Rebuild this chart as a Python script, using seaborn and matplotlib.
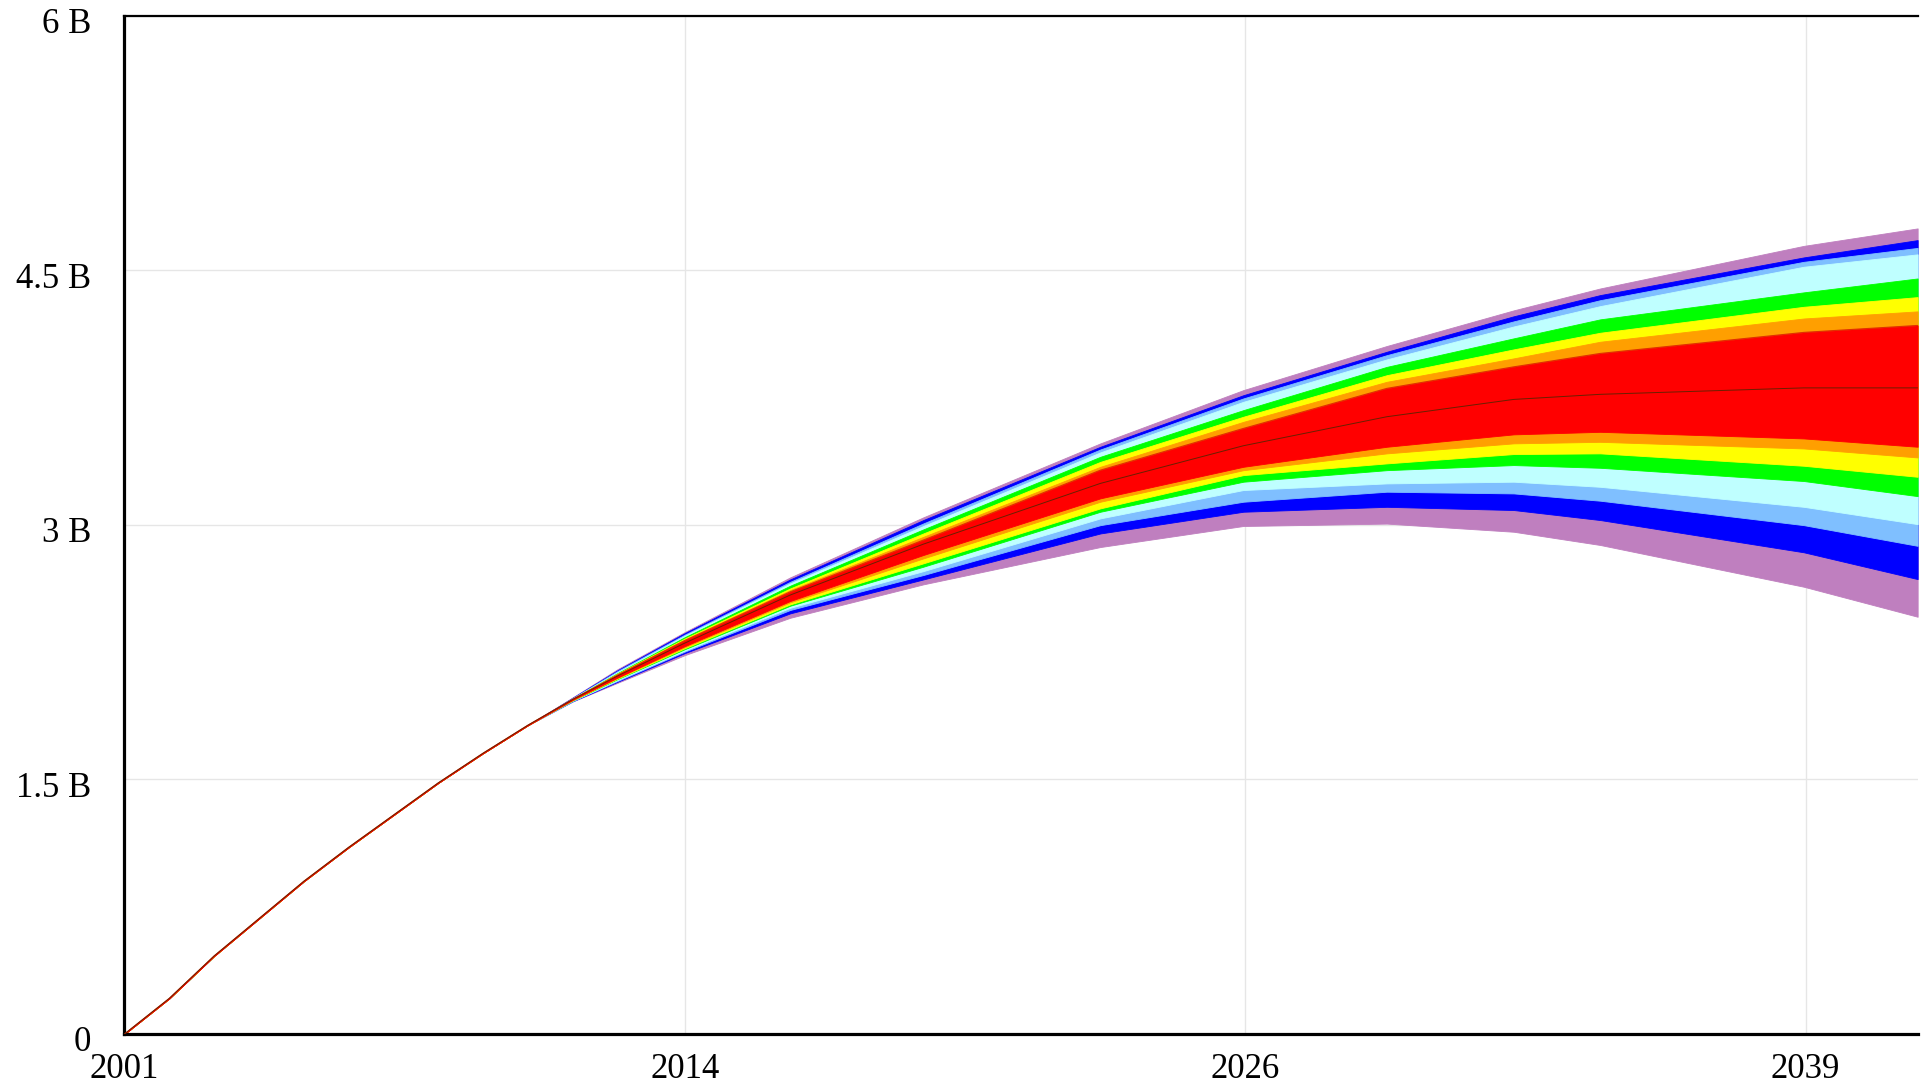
import numpy as np
import pandas as pd
import matplotlib
matplotlib.use("Agg")
import matplotlib.pyplot as plt
import matplotlib.transforms as mtransforms
import seaborn as sns

# Simulation time (years) and sensitivity envelopes, in billions
years = [2001, 2002, 2003, 2004, 2005, 2006, 2007, 2008, 2009, 2010, 2011, 2012,
         2013.5, 2015.85, 2018.82, 2022.77, 2025.96, 2029.16, 2031.99,
         2033.92, 2038.46, 2041]

early = [0.0, 0.21, 0.46, 0.68, 0.90, 1.10, 1.29, 1.48, 1.655, 1.82]

median = early + [1.972, 2.110, 2.304, 2.587, 2.887, 3.245, 3.467, 3.638, 3.740, 3.770, 3.808, 3.808]

p100_hi = early + [1.984, 2.150, 2.369, 2.691, 3.045, 3.481, 3.795, 4.055, 4.265, 4.394, 4.645, 4.748]
p100_lo = early + [1.960, 2.070, 2.233, 2.453, 2.650, 2.870, 2.994, 3.008, 2.960, 2.882, 2.636, 2.459]
p98_hi = early + [1.982, 2.144, 2.363, 2.679, 3.029, 3.461, 3.765, 4.021, 4.230, 4.355, 4.577, 4.679]
p98_lo = early + [1.961, 2.076, 2.245, 2.479, 2.679, 2.950, 3.078, 3.107, 3.088, 3.029, 2.839, 2.681]
p95_hi = early + [1.980, 2.139, 2.354, 2.665, 3.009, 3.445, 3.746, 4.001, 4.200, 4.325, 4.551, 4.633]
p95_lo = early + [1.963, 2.081, 2.254, 2.499, 2.705, 2.999, 3.137, 3.196, 3.186, 3.143, 2.999, 2.877]
p90_hi = early + [1.978, 2.133, 2.348, 2.656, 2.994, 3.428, 3.726, 3.976, 4.170, 4.290, 4.522, 4.595]
p90_lo = early + [1.964, 2.086, 2.260, 2.512, 2.728, 3.039, 3.206, 3.245, 3.255, 3.225, 3.107, 3.005]
p75_hi = early + [1.976, 2.127, 2.339, 2.642, 2.974, 3.402, 3.677, 3.932, 4.100, 4.212, 4.371, 4.453]
p75_lo = early + [1.966, 2.092, 2.268, 2.524, 2.754, 3.078, 3.255, 3.323, 3.353, 3.337, 3.259, 3.170]
p60_hi = early + [1.975, 2.124, 2.331, 2.626, 2.950, 3.372, 3.638, 3.883, 4.035, 4.133, 4.286, 4.343]
p60_lo = early + [1.968, 2.095, 2.274, 2.532, 2.774, 3.098, 3.294, 3.363, 3.418, 3.422, 3.349, 3.284]
p50_hi = early + [1.974, 2.121, 2.325, 2.616, 2.930, 3.343, 3.608, 3.844, 3.982, 4.080, 4.217, 4.259]
p50_lo = early + [1.969, 2.098, 2.280, 2.544, 2.803, 3.137, 3.323, 3.422, 3.481, 3.490, 3.451, 3.398]
p40_hi = early + [1.973, 2.116, 2.319, 2.606, 2.911, 3.323, 3.569, 3.805, 3.932, 4.011, 4.135, 4.176]
p40_lo = early + [1.970, 2.101, 2.286, 2.552, 2.823, 3.157, 3.343, 3.461, 3.534, 3.549, 3.510, 3.461]

band_colors = ["#BF7FBF", "#0000FF", "#7FBFFF", "#BFFFFF",
               "#00FF00", "#FFFF00", "#FF9F00", "#FF0000"]

tick_years = [2001, 2013.5, 2026, 2038.5]
tick_year_labels = ["2001", "2014", "2026", "2039"]
y_ticks = [0, 1.5, 3, 4.5, 6]
y_tick_labels = ["0", "1.5 B", "3 B", "4.5 B", "6 B"]

df = pd.DataFrame({"year": years, "median": median})

sns.set_style("white")
plt.rcParams["font.family"] = ["Liberation Serif", "DejaVu Serif"]

fig = plt.figure(figsize=(19.30, 10.86), dpi=100)
ax = fig.add_axes([0.0645, 0.0479, 0.9291, 0.9374])

bands = [(p100_lo, p100_hi), (p98_lo, p98_hi), (p95_lo, p95_hi), (p90_lo, p90_hi),
         (p75_lo, p75_hi), (p60_lo, p60_hi), (p50_lo, p50_hi), (p40_lo, p40_hi)]
for (lo, hi), col in zip(bands, band_colors):
    ax.fill_between(df["year"], lo, hi, facecolor=col, edgecolor=col,
                    linewidth=0.6, zorder=2)

# Red core traced along its edge so the collapsed early run stays visible
ax.plot(df["year"], p40_hi, color="#E03000", lw=0.8, zorder=3)
sns.lineplot(data=df, x="year", y="median", color="#6a2000", lw=0.7,
             ax=ax, zorder=4)

ax.set_xlim(2001, 2041)
ax.set_ylim(0, 6)
ax.set_xticks(tick_years)
ax.set_xticklabels(tick_year_labels)
ax.set_yticks(y_ticks)
ax.set_yticklabels(y_tick_labels)
ax.set_xlabel("")
ax.set_ylabel("")

ax.grid(True, color="#e6e6e6", linewidth=1.0, zorder=0)
ax.set_axisbelow(True)

for side in ["left", "bottom"]:
    ax.spines[side].set_color("black")
    ax.spines[side].set_linewidth(2.3)
ax.spines["top"].set_color("black")
ax.spines["top"].set_linewidth(1.6)
ax.spines["right"].set_visible(False)

ax.tick_params(axis="both", length=0, labelsize=25, colors="black")
ax.tick_params(axis="x", pad=14)
ax.tick_params(axis="y", pad=24)
shift_down = mtransforms.ScaledTranslation(0, -5 / 100, fig.dpi_scale_trans)
for lab in ax.get_yticklabels():
    lab.set_verticalalignment("center_baseline")
    lab.set_transform(lab.get_transform() + shift_down)

fig.savefig("out.png", dpi=100, facecolor="white")
